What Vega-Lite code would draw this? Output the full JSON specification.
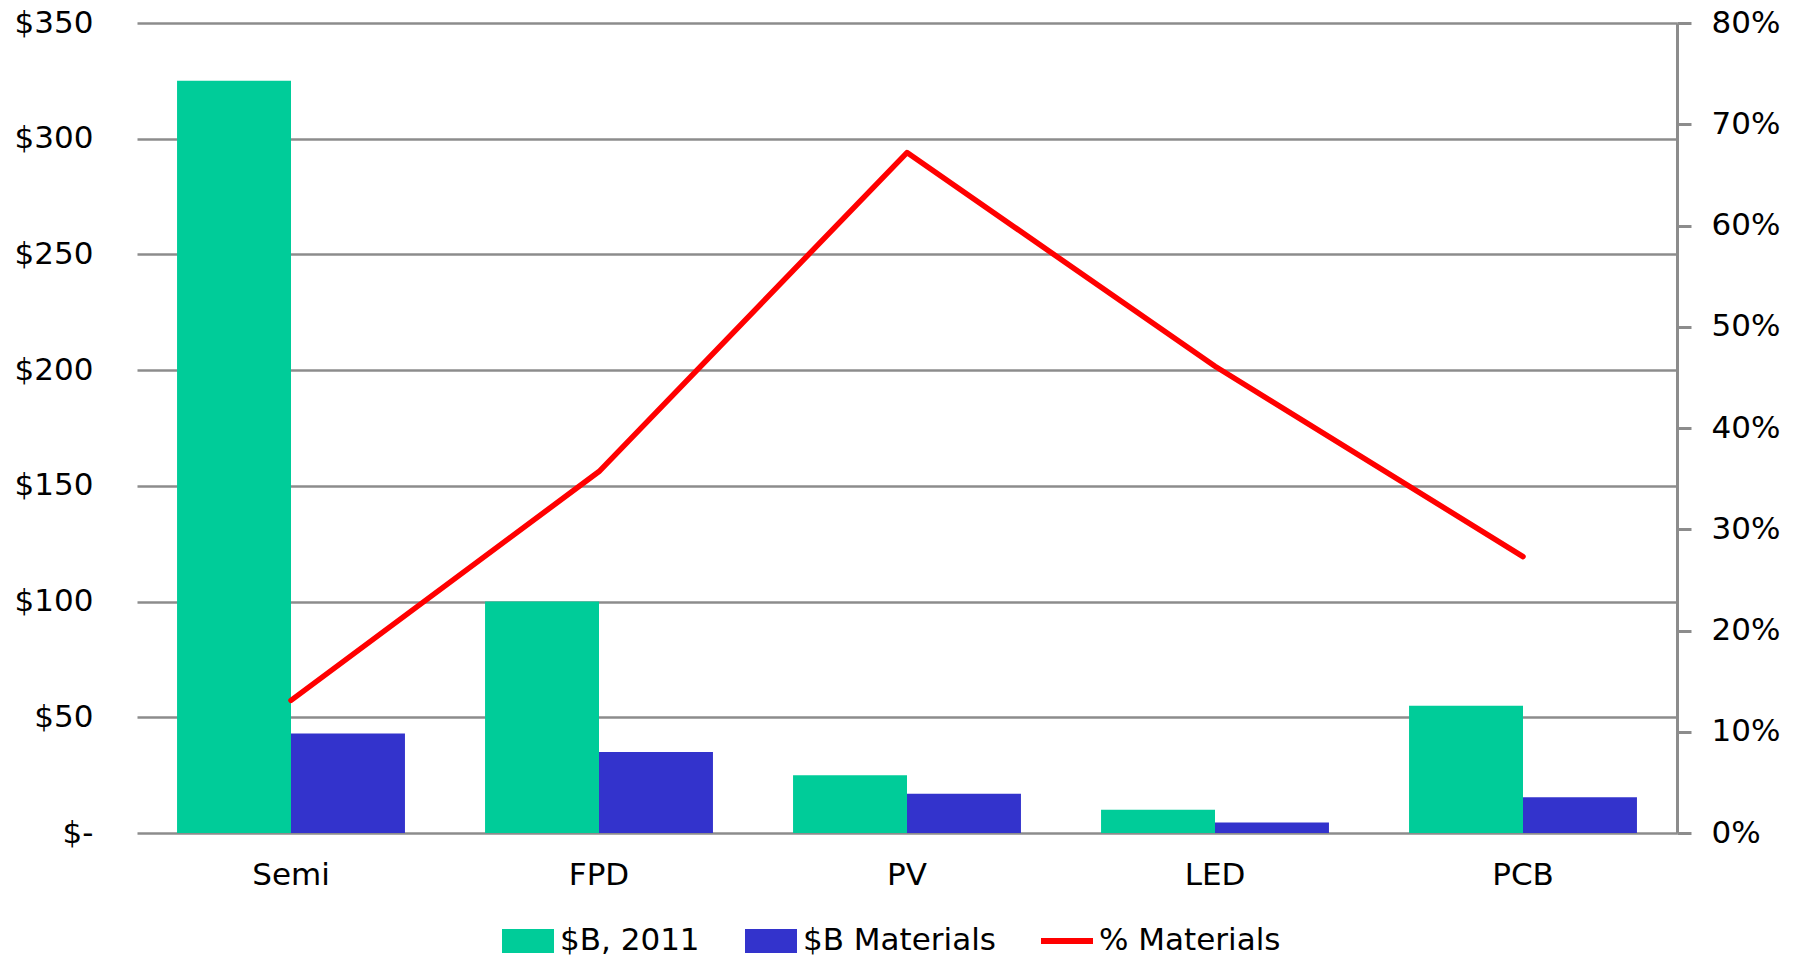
{
  "$schema": "https://vega.github.io/schema/vega-lite/v6.json",
  "width": 1540,
  "height": 810,
  "autosize": {"type": "none"},
  "padding": {"left": 137, "top": 23, "right": 127, "bottom": 126},
  "background": "white",
  "datasets": {
    "bars": [
      {"cat": "Semi", "series": "$B, 2011", "value": 325},
      {"cat": "Semi", "series": "$B Materials", "value": 43},
      {"cat": "FPD", "series": "$B, 2011", "value": 100},
      {"cat": "FPD", "series": "$B Materials", "value": 35},
      {"cat": "PV", "series": "$B, 2011", "value": 25},
      {"cat": "PV", "series": "$B Materials", "value": 17},
      {"cat": "LED", "series": "$B, 2011", "value": 10},
      {"cat": "LED", "series": "$B Materials", "value": 4.5},
      {"cat": "PCB", "series": "$B, 2011", "value": 55},
      {"cat": "PCB", "series": "$B Materials", "value": 15.5}
    ],
    "pct": [
      {"cat": "Semi", "pct": 0.131},
      {"cat": "FPD", "pct": 0.357},
      {"cat": "PV", "pct": 0.672},
      {"cat": "LED", "pct": 0.461},
      {"cat": "PCB", "pct": 0.273}
    ]
  },
  "config": {
    "view": {"stroke": null},
    "font": "DejaVu Sans",
    "axis": {"labelFont": "DejaVu Sans", "labelColor": "black", "labelFontSize": 31, "titleFontSize": 0}
  },
  "layer": [
    {
      "data": {"name": "bars"},
      "mark": {"type": "bar"},
      "encoding": {
        "x": {
          "field": "cat", "type": "nominal",
          "sort": ["Semi", "FPD", "PV", "LED", "PCB"],
          "scale": {"paddingInner": 0.26, "paddingOuter": 0.13},
          "axis": {"title": null, "labelAngle": 0, "domain": false, "ticks": false, "tickSize": 0, "labelPadding": 27, "labelFontSize": 31}
        },
        "xOffset": {
          "field": "series", "type": "nominal",
          "sort": ["$B, 2011", "$B Materials"],
          "scale": {"paddingInner": 0, "paddingOuter": 0}
        },
        "y": {
          "field": "value", "type": "quantitative",
          "scale": {"domain": [0, 350], "nice": false},
          "axis": {
            "title": null, "orient": "left",
            "values": [0, 50, 100, 150, 200, 250, 300, 350],
            "labelExpr": "datum.value === 0 ? '$-' : '$' + datum.value",
            "domain": false, "ticks": false, "tickSize": 0, "labelPadding": 44,
            "grid": true, "gridColor": "#8c8c8c", "gridWidth": 2.5,
            "encode": {
              "labels": {
                "update": {
                  "dx": {"signal": "datum.value === 0 ? -22 : 0"}
                }
              }
            }
          }
        },
        "color": {
          "field": "series", "type": "nominal",
          "scale": {"domain": ["$B, 2011", "$B Materials", "% Materials"], "range": ["#00CC99", "#3333CC", "#FF0000"]},
          "legend": {
            "title": null,
            "orient": "none",
            "legendX": 365,
            "legendY": 892,
            "direction": "horizontal",
            "columns": 3,
            "padding": 0,
            "columnPadding": 45,
            "labelFont": "DejaVu Sans",
            "labelFontSize": 31,
            "labelLimit": 500,
            "labelColor": "black",
            "labelOffset": 6,
            "symbolSize": 2704,
            "symbolStrokeWidth": 0,
            "encode": {
              "symbols": {
                "update": {
                  "shape": {"signal": "datum.value === '% Materials' ? 'M-1,-0.12H1V0.12H-1Z' : 'M-1,-0.46H1V0.46H-1Z'"},
                  "fill": {"scale": "color", "field": "value"},
                  "fillOpacity": {"value": 1},
                  "strokeWidth": {"value": 0}
                }
              }
            }
          }
        }
      }
    },
    {
      "data": {"name": "pct"},
      "mark": {"type": "line", "strokeWidth": 5.5, "strokeCap": "round", "strokeJoin": "round"},
      "encoding": {
        "x": {"field": "cat", "type": "nominal", "sort": ["Semi", "FPD", "PV", "LED", "PCB"]},
        "y": {
          "field": "pct", "type": "quantitative",
          "scale": {"domain": [0, 0.8], "nice": false},
          "axis": {
            "title": null, "orient": "right",
            "values": [0, 0.1, 0.2, 0.3, 0.4, 0.5, 0.6, 0.7, 0.8],
            "format": ".0%",
            "grid": false,
            "domain": true, "domainColor": "#8c8c8c", "domainWidth": 3,
            "ticks": true, "tickColor": "#8c8c8c", "tickWidth": 3, "tickSize": 14,
            "labelPadding": 20
          }
        },
        "color": {"datum": "% Materials"}
      }
    }
  ],
  "resolve": {"scale": {"y": "independent"}}
}
